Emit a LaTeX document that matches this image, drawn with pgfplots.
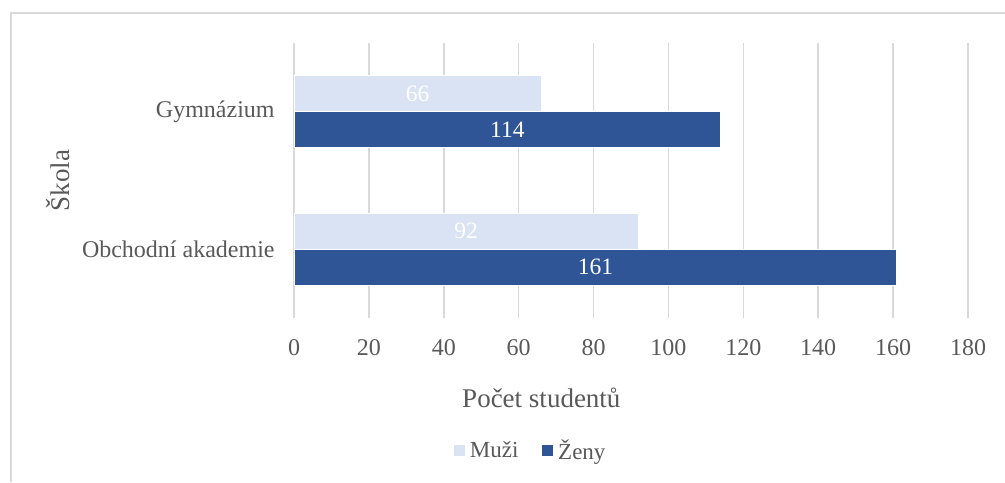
\documentclass[border=0pt]{standalone}
\usepackage{pgfplots}
\pgfplotsset{compat=1.18}
\usepackage{fontspec}
\setmainfont{Liberation Serif}
\definecolor{muzi}{HTML}{DAE3F3}
\definecolor{zeny}{HTML}{2F5597}
\definecolor{txt}{HTML}{595959}
\definecolor{gridc}{HTML}{D9D9D9}
\begin{document}
\begin{tikzpicture}
\useasboundingbox (0,0) rectangle (502.5pt,241pt);
\draw[gridc, line width=1pt] (5.5pt,0) -- (5.5pt,234.5pt) -- (502.5pt,234.5pt);
\begin{axis}[
  at={(147pt,82pt)}, anchor=south west,
  scale only axis, width=337pt, height=137.5pt,
  xmin=0, xmax=180, ymin=0.5, ymax=2.5,
  xtick={0,20,...,180}, ytick={1,2}, yticklabels={Obchodní akademie, Gymnázium},
  xbar, bar width=18pt,
  axis line style={draw=none}, major tick style={draw=none}, major tick length=0pt,
  xmajorgrids, grid style={gridc, line width=0.75pt},
  ticklabel style={font=\fontsize{12}{14}\selectfont, text=txt},
  /pgf/number format/assume math mode=true,
  xticklabel style={anchor=base, yshift=-18.5pt},
  yticklabel style={anchor=east, inner sep=0pt, xshift=-9.5pt},
  xlabel={Počet studentů}, ylabel={Škola},
  label style={font=\fontsize{13.5}{16}\selectfont, text=txt},
  xlabel style={at={(axis description cs:0.367,-0.324)}, anchor=base},
  ylabel style={at={(axis description cs:-0.350,0.5)}, anchor=center},
  legend style={at={(axis description cs:0.352,-0.484)}, anchor=center, draw=none,
    font=\fontsize{11.5}{13}\selectfont, text=txt,
    /tikz/every even column/.append style={column sep=9.5pt}},
  legend columns=2,
  legend image code/.code={\fill[#1] (0pt,-2.5pt) rectangle (6pt,3.5pt);},
  visualization depends on={x \as \rawx},
  nodes near coords,
  every node near coord/.append style={font=\fontsize{11.75}{13}\selectfont, text=white, anchor=center, xshift={-\rawx*0.936111pt}},
]
\addplot[fill=muzi, draw=white, line width=0.4pt, bar shift=9pt] coordinates {(66,2) (92,1)};
\addplot[fill=zeny, draw=white, line width=0.4pt, bar shift=-9pt] coordinates {(114,2) (161,1)};
\legend{Muži, Ženy}
\end{axis}
\end{tikzpicture}
\end{document}
